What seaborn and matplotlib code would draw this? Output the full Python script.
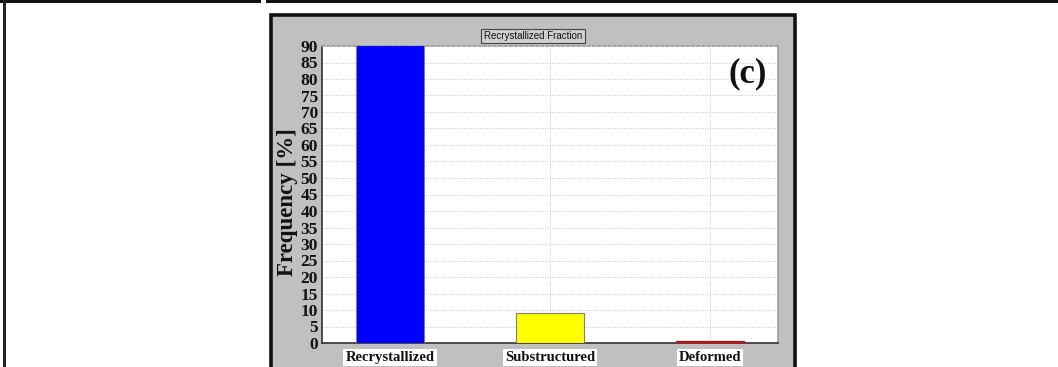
import matplotlib
matplotlib.use("Agg")
import matplotlib.pyplot as plt
from matplotlib.patches import Rectangle
import seaborn as sns
import pandas as pd

categories = ["Recrystallized", "Substructured", "Deformed"]
frequency = [90.2, 9.1, 0.7]
bar_colors = ["#0000FF", "#FFFF00", "#FF0000"]
yticks = list(range(0, 95, 5))

sns.set_theme(style="white")
plt.rcParams["font.family"] = ["Liberation Serif", "DejaVu Serif"]

W, H = 1058, 367
fig = plt.figure(figsize=(W / 100, H / 100), dpi=100)
fig.patch.set_facecolor("white")

def px_rect(x0, y0, x1, y1, **kw):
    return Rectangle((x0 / W, 1 - y1 / H), (x1 - x0) / W, (y1 - y0) / H,
                     transform=fig.transFigure, zorder=-10, **kw)

# neighbouring panel frames
fig.patches.append(px_rect(-2, 0, 261, 3, facecolor="#111111", edgecolor="none"))
fig.patches.append(px_rect(266, 0, 1060, 3, facecolor="#111111", edgecolor="none"))
fig.patches.append(px_rect(3, 0, 6, 370, facecolor="#222222", edgecolor="none"))

# gray chart window
fig.patches.append(px_rect(270.5, 14.5, 794.5, 372, facecolor="#C0C0C0",
                           edgecolor="#111111", linewidth=2.6))

ax = fig.add_axes([322 / W, 1 - 343 / H, (778 - 322) / W, (343 - 46) / H])
ax.set_facecolor("white")

df = pd.DataFrame({"Fraction": categories, "Frequency": frequency})
sns.barplot(data=df, x="Fraction", y="Frequency", hue="Fraction",
            palette=bar_colors, order=categories, hue_order=categories,
            saturation=1, width=0.42, edgecolor="#7f7f7f", linewidth=0.8,
            legend=False, ax=ax, zorder=3)
for patch, c in zip(ax.patches, bar_colors):
    if c == "#FF0000":
        patch.set_edgecolor("#CC0000")

ax.set_xlim(-0.425, 2.425)
ax.set_ylim(0, 90)
ax.set_yticks(yticks)
ax.set_yticklabels([str(v) for v in yticks], fontsize=12.5, fontweight="bold",
                   color="#111111")
ax.tick_params(axis="y", length=0, pad=3)
ax.set_xticks(range(len(categories)))
ax.set_xticklabels(categories, fontsize=10.5, fontweight="bold", color="#111111")
ax.tick_params(axis="x", length=0, pad=6)
for lbl in ax.get_xticklabels():
    lbl.set_bbox(dict(facecolor="white", edgecolor="none", pad=1.5))

ax.grid(True, axis="both", color="#C4C4C4", linestyle=(0, (1.2, 1.5)), linewidth=0.6, zorder=0)
ax.set_axisbelow(True)

ax.spines["left"].set_color("#333333")
ax.spines["left"].set_linewidth(1.2)
ax.spines["bottom"].set_color("#333333")
ax.spines["bottom"].set_linestyle((0, (1.5, 1)))
ax.spines["bottom"].set_linewidth(1.2)
ax.spines["top"].set_color("#A0A0A0")
ax.spines["top"].set_linestyle((0, (1.5, 1.5)))
ax.spines["right"].set_color("#A0A0A0")

ax.set_xlabel("")
ax.set_ylabel("Frequency [%]", fontsize=16.5, fontweight="bold", color="#111111")
ax.yaxis.set_label_coords(-0.053, 0.475)

ax.text(0.975, 0.905, "(c)", transform=ax.transAxes, ha="right", va="center",
        fontsize=25, fontweight="bold", color="#111111")

fig.text(533 / W, 1 - 36 / H, "Recrystallized Fraction", ha="center", va="center",
         fontsize=7, family=["Liberation Sans", "DejaVu Sans"], color="#111111",
         bbox=dict(facecolor="#CFCFCF", edgecolor="#444444", linewidth=0.8,
                   boxstyle="square,pad=0.25"))

fig.savefig("out.png", dpi=100, facecolor="white")
